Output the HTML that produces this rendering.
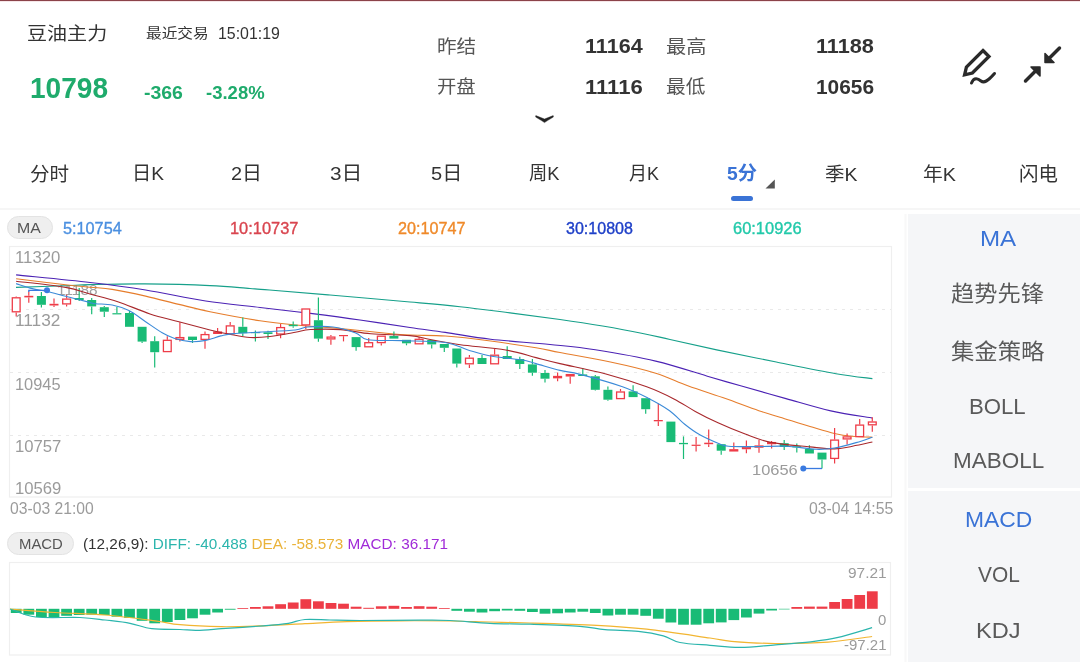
<!DOCTYPE html>
<html><head><meta charset="utf-8">
<style>
*{margin:0;padding:0;box-sizing:border-box}
html,body{width:1080px;height:662px;overflow:hidden}
html{background:#fff}
body{position:relative;font-family:"Liberation Sans","Noto Sans CJK SC",sans-serif;color:#333}
.t{position:absolute;white-space:nowrap;line-height:1;transform-origin:0 0}
.a{position:absolute}
.chart{position:absolute;left:0;top:0}
.topbar{position:absolute;left:0;top:0;width:1080px;height:1px;background:#8b4349}
.topbar2{position:absolute;left:0;top:1px;width:1080px;height:1px;background:#f6e6e8}
.sep{position:absolute;left:0;top:208px;width:1080px;height:2px;background:#f6f6f6}
.panel{position:absolute;left:908px;width:172px;background:#f5f6f8}
.pill{position:absolute;background:#efefef;border:1px solid #e3e3e3;border-radius:12px}
</style></head><body>
<div class="topbar"></div><div class="topbar2"></div>
<svg class="a" style="left:530px;top:110px" width="30" height="18" viewBox="530 110 30 18">
<path d="M535.8,115.6 L544.5,119.0 L553.2,115.6 L553.4,117.0 L547.5,120.6 L544.5,122.6 L541.5,120.6 L535.6,117.0 Z" fill="#222" stroke="#222" stroke-width="0.4" stroke-linejoin="round"/>
</svg>
<svg class="a" style="left:955px;top:40px" width="50" height="50" viewBox="955 40 50 50">
<path transform="translate(977 62) scale(0.92) translate(-977 -62)" d="M983.5,49.5 L990,56 L972,74 L963.5,76 L965.5,67.5 Z" fill="none" stroke="#2a2a2a" stroke-width="3.6" stroke-linejoin="miter"/>
<path d="M971.5,83 C974,77 978,78.5 981,81 C984,83.5 987.5,81.5 994.5,73.5" fill="none" stroke="#2a2a2a" stroke-width="3" stroke-linecap="round"/>
</svg>
<svg class="a" style="left:1015px;top:40px" width="55" height="50" viewBox="1015 40 55 50">
<path d="M1059.5,48 L1047,60.5" stroke="#2a2a2a" stroke-width="3.5" stroke-linecap="round"/>
<path d="M1045,53.5 L1045,62.5 L1054,62.5 Z" fill="#2a2a2a" stroke="#2a2a2a" stroke-width="1.5" stroke-linejoin="round"/>
<path d="M1025.5,81 L1038,68.5" stroke="#2a2a2a" stroke-width="3.5" stroke-linecap="round"/>
<path d="M1031,67 L1040,67 L1040,76 Z" fill="#2a2a2a" stroke="#2a2a2a" stroke-width="1.5" stroke-linejoin="round"/>
</svg>
<svg class="a" style="left:765px;top:179px" width="11" height="11" viewBox="0 0 11 11"><path d="M0.5,9.6 L9.8,9.6 L9.8,0.4 Z" fill="#555"/></svg>
<div class="a" style="left:731px;top:196px;width:22px;height:4.5px;border-radius:3px;background:#3a73d6"></div>
<div class="sep"></div>
<div class="panel" style="top:214px;height:273.6px"></div>
<div class="panel" style="top:490.8px;height:172px"></div>
<svg class="chart" width="1080" height="662" viewBox="0 0 1080 662">
<rect x="9.5" y="246.5" width="882" height="250.5" fill="none" stroke="#efefef" stroke-width="1.2"/>
<line x1="905.5" y1="214" x2="905.5" y2="662" stroke="#f8f8f8" stroke-width="2"/>
<line x1="10" y1="309.5" x2="891" y2="309.5" stroke="#e9e9e9" stroke-width="1" stroke-dasharray="3,5"/>
<line x1="10" y1="372.5" x2="891" y2="372.5" stroke="#e9e9e9" stroke-width="1" stroke-dasharray="3,5"/>
<line x1="10" y1="435.5" x2="891" y2="435.5" stroke="#e9e9e9" stroke-width="1" stroke-dasharray="3,5"/>
<path d="M16.0,287.4 C24.2,287.1 52.7,286.3 65.0,285.8 C77.3,285.3 76.7,284.9 90.0,284.6 C103.3,284.3 125.0,283.7 145.0,283.9 C165.0,284.1 192.5,284.8 210.0,285.6 C227.5,286.4 240.1,287.8 250.0,288.5 C259.9,289.2 256.3,288.9 269.6,290.0 C282.9,291.1 306.6,293.0 330.0,295.0 C353.4,297.0 388.3,300.1 410.0,302.0 C431.7,303.9 443.0,304.8 460.0,306.7 C477.0,308.6 495.2,311.0 511.9,313.1 C528.6,315.2 544.9,317.4 560.0,319.5 C575.1,321.6 589.0,323.7 602.6,326.0 C616.2,328.3 630.3,330.9 641.5,333.2 C652.7,335.4 657.5,336.7 670.0,339.5 C682.5,342.3 699.0,346.1 716.7,349.9 C734.4,353.6 756.4,358.0 776.3,362.0 C796.2,366.0 820.0,370.9 836.0,373.7 C852.0,376.5 866.3,377.8 872.4,378.6" fill="none" stroke="#16a08a" stroke-width="1.1"/>
<path d="M16.1,274.9 C28.4,276.2 68.4,280.0 90.0,282.5 C111.6,285.0 126.3,286.9 145.6,290.0 C164.9,293.1 186.6,298.1 205.7,301.0 C224.8,303.9 242.6,305.4 260.0,307.5 C277.4,309.6 293.7,311.3 310.4,313.4 C327.1,315.5 343.4,317.6 360.0,320.0 C376.6,322.4 395.8,325.4 410.0,327.5 C424.2,329.6 431.9,330.4 445.3,332.4 C458.7,334.3 473.2,337.2 490.6,339.2 C508.1,341.2 532.5,342.7 550.0,344.5 C567.5,346.3 577.7,347.0 595.3,349.8 C612.9,352.6 636.6,356.6 655.7,361.1 C674.8,365.6 695.9,372.9 710.0,377.0 C724.1,381.1 727.9,382.2 740.6,385.8 C753.3,389.4 771.0,394.4 786.0,398.6 C801.0,402.8 816.4,407.6 830.8,410.9 C845.2,414.1 865.5,416.9 872.4,418.1" fill="none" stroke="#4b22b4" stroke-width="1.1"/>
<path d="M16.1,278.8 C24.4,279.8 53.3,283.3 65.6,284.7 C77.9,286.1 82.2,286.4 90.0,287.2 C97.8,288.0 102.9,287.9 112.2,289.4 C121.5,290.9 134.5,293.6 145.6,296.1 C156.7,298.6 168.2,301.8 178.9,304.4 C189.6,307.0 196.5,309.0 210.0,311.7 C223.5,314.4 245.8,318.6 260.0,320.8 C274.2,323.0 281.9,323.7 295.3,325.0 C308.7,326.3 323.2,326.9 340.6,328.5 C358.1,330.1 382.6,333.2 400.0,334.5 C417.4,335.8 430.2,334.9 445.3,336.0 C460.4,337.1 475.5,339.0 490.6,341.0 C505.7,343.0 524.4,345.9 536.0,347.8 C547.6,349.7 547.6,350.1 560.0,352.5 C572.4,354.9 594.4,358.6 610.4,362.0 C626.4,365.4 642.8,369.2 655.7,373.2 C668.6,377.2 676.2,381.6 687.8,385.8 C699.4,390.0 713.7,394.5 725.5,398.6 C737.3,402.8 749.7,407.6 758.8,410.7 C767.9,413.8 771.5,414.6 780.0,417.2 C788.5,419.8 800.9,423.8 810.0,426.5 C819.1,429.2 827.4,431.9 834.4,433.5 C841.4,435.1 845.7,435.7 852.0,436.3 C858.3,436.9 869.0,437.1 872.4,437.2" fill="none" stroke="#e67d2c" stroke-width="1.1"/>
<line x1="16.2" y1="296.4" x2="16.2" y2="297.2" stroke="#ee3c48" stroke-width="1.2"/>
<line x1="16.2" y1="312.4" x2="16.2" y2="316.4" stroke="#ee3c48" stroke-width="1.2"/>
<rect x="12.3" y="297.8" width="7.8" height="14.0" fill="#fff" stroke="#ee3c48" stroke-width="1.3"/>
<line x1="28.8" y1="291.6" x2="28.8" y2="295.8" stroke="#ee3c48" stroke-width="1.2"/>
<line x1="28.8" y1="297.4" x2="28.8" y2="302.7" stroke="#ee3c48" stroke-width="1.2"/>
<rect x="24.3" y="295.8" width="9.0" height="1.6" fill="#ee3c48"/>
<line x1="41.4" y1="292.1" x2="41.4" y2="296.0" stroke="#19bb76" stroke-width="1.2"/>
<line x1="41.4" y1="304.8" x2="41.4" y2="307.5" stroke="#19bb76" stroke-width="1.2"/>
<rect x="36.9" y="296.0" width="9.0" height="8.8" fill="#19bb76"/>
<line x1="54.0" y1="298.5" x2="54.0" y2="303.8" stroke="#ee3c48" stroke-width="1.2"/>
<line x1="54.0" y1="305.5" x2="54.0" y2="307.0" stroke="#ee3c48" stroke-width="1.2"/>
<rect x="49.5" y="303.8" width="9.0" height="1.7" fill="#ee3c48"/>
<line x1="66.6" y1="294.8" x2="66.6" y2="298.5" stroke="#ee3c48" stroke-width="1.2"/>
<line x1="66.6" y1="304.5" x2="66.6" y2="306.4" stroke="#ee3c48" stroke-width="1.2"/>
<rect x="62.7" y="299.1" width="7.8" height="4.8" fill="#fff" stroke="#ee3c48" stroke-width="1.3"/>
<line x1="79.2" y1="288.0" x2="79.2" y2="298.0" stroke="#19bb76" stroke-width="1.2"/>
<line x1="79.2" y1="300.0" x2="79.2" y2="301.0" stroke="#19bb76" stroke-width="1.2"/>
<rect x="74.7" y="298.0" width="9.0" height="2.0" fill="#19bb76"/>
<line x1="91.7" y1="298.0" x2="91.7" y2="300.0" stroke="#19bb76" stroke-width="1.2"/>
<line x1="91.7" y1="306.4" x2="91.7" y2="314.3" stroke="#19bb76" stroke-width="1.2"/>
<rect x="87.2" y="300.0" width="9.0" height="6.4" fill="#19bb76"/>
<line x1="104.3" y1="306.0" x2="104.3" y2="307.2" stroke="#19bb76" stroke-width="1.2"/>
<line x1="104.3" y1="311.7" x2="104.3" y2="317.0" stroke="#19bb76" stroke-width="1.2"/>
<rect x="99.8" y="307.2" width="9.0" height="4.5" fill="#19bb76"/>
<line x1="116.9" y1="306.9" x2="116.9" y2="313.2" stroke="#19bb76" stroke-width="1.2"/>
<rect x="112.4" y="313.2" width="9.0" height="1.2" fill="#19bb76"/>
<line x1="129.5" y1="311.0" x2="129.5" y2="313.0" stroke="#19bb76" stroke-width="1.2"/>
<rect x="125.0" y="313.0" width="9.0" height="13.8" fill="#19bb76"/>
<line x1="142.1" y1="341.6" x2="142.1" y2="343.0" stroke="#19bb76" stroke-width="1.2"/>
<rect x="137.6" y="326.8" width="9.0" height="14.8" fill="#19bb76"/>
<line x1="154.7" y1="336.2" x2="154.7" y2="341.2" stroke="#19bb76" stroke-width="1.2"/>
<line x1="154.7" y1="352.2" x2="154.7" y2="367.6" stroke="#19bb76" stroke-width="1.2"/>
<rect x="150.2" y="341.2" width="9.0" height="11.0" fill="#19bb76"/>
<line x1="167.3" y1="336.2" x2="167.3" y2="339.7" stroke="#ee3c48" stroke-width="1.2"/>
<rect x="163.4" y="340.3" width="7.8" height="11.3" fill="#fff" stroke="#ee3c48" stroke-width="1.3"/>
<line x1="179.9" y1="322.3" x2="179.9" y2="337.0" stroke="#ee3c48" stroke-width="1.2"/>
<line x1="179.9" y1="340.0" x2="179.9" y2="341.6" stroke="#ee3c48" stroke-width="1.2"/>
<rect x="176.0" y="337.6" width="7.8" height="1.8" fill="#fff" stroke="#ee3c48" stroke-width="1.3"/>
<line x1="192.5" y1="340.0" x2="192.5" y2="343.0" stroke="#19bb76" stroke-width="1.2"/>
<rect x="188.0" y="336.6" width="9.0" height="3.4" fill="#19bb76"/>
<line x1="205.0" y1="331.4" x2="205.0" y2="334.0" stroke="#ee3c48" stroke-width="1.2"/>
<line x1="205.0" y1="340.0" x2="205.0" y2="348.7" stroke="#ee3c48" stroke-width="1.2"/>
<rect x="201.1" y="334.6" width="7.8" height="4.8" fill="#fff" stroke="#ee3c48" stroke-width="1.3"/>
<line x1="217.6" y1="328.0" x2="217.6" y2="331.4" stroke="#ee3c48" stroke-width="1.2"/>
<rect x="213.1" y="331.4" width="9.0" height="2.6" fill="#ee3c48"/>
<line x1="230.2" y1="322.0" x2="230.2" y2="325.3" stroke="#ee3c48" stroke-width="1.2"/>
<rect x="226.3" y="325.9" width="7.8" height="7.9" fill="#fff" stroke="#ee3c48" stroke-width="1.3"/>
<line x1="242.8" y1="317.5" x2="242.8" y2="326.8" stroke="#19bb76" stroke-width="1.2"/>
<line x1="242.8" y1="333.2" x2="242.8" y2="336.0" stroke="#19bb76" stroke-width="1.2"/>
<rect x="238.3" y="326.8" width="9.0" height="6.4" fill="#19bb76"/>
<line x1="255.4" y1="330.6" x2="255.4" y2="332.0" stroke="#19bb76" stroke-width="1.2"/>
<line x1="255.4" y1="333.2" x2="255.4" y2="341.5" stroke="#19bb76" stroke-width="1.2"/>
<rect x="250.9" y="332.0" width="9.0" height="1.2" fill="#19bb76"/>
<line x1="268.0" y1="330.8" x2="268.0" y2="332.3" stroke="#19bb76" stroke-width="1.2"/>
<line x1="268.0" y1="334.0" x2="268.0" y2="339.0" stroke="#19bb76" stroke-width="1.2"/>
<rect x="263.5" y="332.3" width="9.0" height="1.7" fill="#19bb76"/>
<line x1="280.6" y1="324.0" x2="280.6" y2="327.0" stroke="#ee3c48" stroke-width="1.2"/>
<line x1="280.6" y1="334.6" x2="280.6" y2="338.3" stroke="#ee3c48" stroke-width="1.2"/>
<rect x="276.7" y="327.6" width="7.8" height="6.4" fill="#fff" stroke="#ee3c48" stroke-width="1.3"/>
<line x1="293.2" y1="321.4" x2="293.2" y2="324.7" stroke="#19bb76" stroke-width="1.2"/>
<line x1="293.2" y1="326.2" x2="293.2" y2="327.8" stroke="#19bb76" stroke-width="1.2"/>
<rect x="288.7" y="324.7" width="9.0" height="1.5" fill="#19bb76"/>
<line x1="305.8" y1="325.5" x2="305.8" y2="329.0" stroke="#ee3c48" stroke-width="1.2"/>
<rect x="301.9" y="309.0" width="7.8" height="15.9" fill="#fff" stroke="#ee3c48" stroke-width="1.3"/>
<line x1="318.4" y1="297.6" x2="318.4" y2="320.2" stroke="#19bb76" stroke-width="1.2"/>
<line x1="318.4" y1="338.6" x2="318.4" y2="341.7" stroke="#19bb76" stroke-width="1.2"/>
<rect x="313.9" y="320.2" width="9.0" height="18.4" fill="#19bb76"/>
<line x1="330.9" y1="335.0" x2="330.9" y2="336.5" stroke="#ee3c48" stroke-width="1.2"/>
<line x1="330.9" y1="339.5" x2="330.9" y2="344.7" stroke="#ee3c48" stroke-width="1.2"/>
<rect x="327.1" y="337.1" width="7.8" height="1.8" fill="#fff" stroke="#ee3c48" stroke-width="1.3"/>
<line x1="343.5" y1="336.2" x2="343.5" y2="341.4" stroke="#ee3c48" stroke-width="1.2"/>
<rect x="339.0" y="335.0" width="9.0" height="1.2" fill="#ee3c48"/>
<line x1="356.1" y1="347.1" x2="356.1" y2="350.7" stroke="#19bb76" stroke-width="1.2"/>
<rect x="351.6" y="337.1" width="9.0" height="10.0" fill="#19bb76"/>
<line x1="368.7" y1="338.0" x2="368.7" y2="342.1" stroke="#ee3c48" stroke-width="1.2"/>
<rect x="364.8" y="342.7" width="7.8" height="4.1" fill="#fff" stroke="#ee3c48" stroke-width="1.3"/>
<line x1="381.3" y1="343.2" x2="381.3" y2="345.6" stroke="#ee3c48" stroke-width="1.2"/>
<rect x="377.4" y="336.2" width="7.8" height="6.4" fill="#fff" stroke="#ee3c48" stroke-width="1.3"/>
<line x1="393.9" y1="331.5" x2="393.9" y2="336.0" stroke="#19bb76" stroke-width="1.2"/>
<rect x="389.4" y="336.0" width="9.0" height="2.6" fill="#19bb76"/>
<line x1="406.5" y1="343.3" x2="406.5" y2="345.3" stroke="#19bb76" stroke-width="1.2"/>
<rect x="402.0" y="339.8" width="9.0" height="3.5" fill="#19bb76"/>
<line x1="419.1" y1="337.0" x2="419.1" y2="338.7" stroke="#ee3c48" stroke-width="1.2"/>
<rect x="415.2" y="339.3" width="7.8" height="4.5" fill="#fff" stroke="#ee3c48" stroke-width="1.3"/>
<line x1="431.7" y1="344.4" x2="431.7" y2="348.5" stroke="#19bb76" stroke-width="1.2"/>
<rect x="427.2" y="340.0" width="9.0" height="4.4" fill="#19bb76"/>
<line x1="444.3" y1="347.8" x2="444.3" y2="352.0" stroke="#19bb76" stroke-width="1.2"/>
<rect x="439.8" y="344.0" width="9.0" height="3.8" fill="#19bb76"/>
<line x1="456.8" y1="363.6" x2="456.8" y2="367.4" stroke="#19bb76" stroke-width="1.2"/>
<rect x="452.3" y="348.5" width="9.0" height="15.1" fill="#19bb76"/>
<line x1="469.4" y1="355.0" x2="469.4" y2="357.6" stroke="#ee3c48" stroke-width="1.2"/>
<line x1="469.4" y1="364.4" x2="469.4" y2="368.0" stroke="#ee3c48" stroke-width="1.2"/>
<rect x="465.5" y="358.2" width="7.8" height="5.6" fill="#fff" stroke="#ee3c48" stroke-width="1.3"/>
<line x1="482.0" y1="355.0" x2="482.0" y2="358.0" stroke="#19bb76" stroke-width="1.2"/>
<rect x="477.5" y="358.0" width="9.0" height="6.0" fill="#19bb76"/>
<line x1="494.6" y1="349.0" x2="494.6" y2="354.6" stroke="#ee3c48" stroke-width="1.2"/>
<rect x="490.7" y="355.2" width="7.8" height="8.6" fill="#fff" stroke="#ee3c48" stroke-width="1.3"/>
<line x1="507.2" y1="346.3" x2="507.2" y2="356.0" stroke="#19bb76" stroke-width="1.2"/>
<rect x="502.7" y="356.0" width="9.0" height="3.0" fill="#19bb76"/>
<line x1="519.8" y1="356.8" x2="519.8" y2="359.0" stroke="#19bb76" stroke-width="1.2"/>
<line x1="519.8" y1="364.0" x2="519.8" y2="369.0" stroke="#19bb76" stroke-width="1.2"/>
<rect x="515.3" y="359.0" width="9.0" height="5.0" fill="#19bb76"/>
<line x1="532.4" y1="359.0" x2="532.4" y2="364.4" stroke="#19bb76" stroke-width="1.2"/>
<line x1="532.4" y1="372.7" x2="532.4" y2="375.7" stroke="#19bb76" stroke-width="1.2"/>
<rect x="527.9" y="364.4" width="9.0" height="8.3" fill="#19bb76"/>
<line x1="545.0" y1="370.0" x2="545.0" y2="373.0" stroke="#19bb76" stroke-width="1.2"/>
<line x1="545.0" y1="378.7" x2="545.0" y2="382.5" stroke="#19bb76" stroke-width="1.2"/>
<rect x="540.5" y="373.0" width="9.0" height="5.7" fill="#19bb76"/>
<line x1="557.6" y1="372.6" x2="557.6" y2="375.9" stroke="#ee3c48" stroke-width="1.2"/>
<line x1="557.6" y1="378.3" x2="557.6" y2="381.3" stroke="#ee3c48" stroke-width="1.2"/>
<rect x="553.7" y="376.5" width="7.8" height="1.2" fill="#fff" stroke="#ee3c48" stroke-width="1.3"/>
<line x1="570.2" y1="376.5" x2="570.2" y2="383.8" stroke="#ee3c48" stroke-width="1.2"/>
<rect x="566.3" y="374.6" width="7.8" height="1.3" fill="#fff" stroke="#ee3c48" stroke-width="1.3"/>
<line x1="582.8" y1="368.0" x2="582.8" y2="374.4" stroke="#19bb76" stroke-width="1.2"/>
<rect x="578.2" y="374.4" width="9.0" height="1.6" fill="#19bb76"/>
<line x1="595.3" y1="375.0" x2="595.3" y2="376.3" stroke="#19bb76" stroke-width="1.2"/>
<line x1="595.3" y1="389.8" x2="595.3" y2="390.6" stroke="#19bb76" stroke-width="1.2"/>
<rect x="590.8" y="376.3" width="9.0" height="13.5" fill="#19bb76"/>
<line x1="607.9" y1="386.5" x2="607.9" y2="389.8" stroke="#19bb76" stroke-width="1.2"/>
<line x1="607.9" y1="399.7" x2="607.9" y2="400.7" stroke="#19bb76" stroke-width="1.2"/>
<rect x="603.4" y="389.8" width="9.0" height="9.9" fill="#19bb76"/>
<line x1="620.5" y1="389.0" x2="620.5" y2="391.4" stroke="#ee3c48" stroke-width="1.2"/>
<rect x="616.6" y="392.0" width="7.8" height="6.6" fill="#fff" stroke="#ee3c48" stroke-width="1.3"/>
<line x1="633.1" y1="385.3" x2="633.1" y2="391.4" stroke="#19bb76" stroke-width="1.2"/>
<rect x="628.6" y="391.4" width="9.0" height="5.7" fill="#19bb76"/>
<line x1="645.7" y1="409.2" x2="645.7" y2="413.7" stroke="#19bb76" stroke-width="1.2"/>
<rect x="641.2" y="398.2" width="9.0" height="11.0" fill="#19bb76"/>
<line x1="658.3" y1="403.6" x2="658.3" y2="420.0" stroke="#ee3c48" stroke-width="1.2"/>
<line x1="658.3" y1="421.3" x2="658.3" y2="426.1" stroke="#ee3c48" stroke-width="1.2"/>
<rect x="653.8" y="420.0" width="9.0" height="1.3" fill="#ee3c48"/>
<rect x="666.4" y="421.6" width="9.0" height="20.5" fill="#19bb76"/>
<line x1="683.5" y1="436.4" x2="683.5" y2="442.9" stroke="#19bb76" stroke-width="1.2"/>
<line x1="683.5" y1="444.2" x2="683.5" y2="459.0" stroke="#19bb76" stroke-width="1.2"/>
<rect x="679.0" y="442.9" width="9.0" height="1.3" fill="#19bb76"/>
<line x1="696.1" y1="437.0" x2="696.1" y2="444.7" stroke="#ee3c48" stroke-width="1.2"/>
<line x1="696.1" y1="445.7" x2="696.1" y2="451.5" stroke="#ee3c48" stroke-width="1.2"/>
<rect x="691.6" y="444.7" width="9.0" height="1.2" fill="#ee3c48"/>
<line x1="708.7" y1="429.6" x2="708.7" y2="442.7" stroke="#ee3c48" stroke-width="1.2"/>
<line x1="708.7" y1="444.2" x2="708.7" y2="447.0" stroke="#ee3c48" stroke-width="1.2"/>
<rect x="704.2" y="442.7" width="9.0" height="1.5" fill="#ee3c48"/>
<line x1="721.2" y1="450.7" x2="721.2" y2="454.8" stroke="#19bb76" stroke-width="1.2"/>
<rect x="716.7" y="444.2" width="9.0" height="6.5" fill="#19bb76"/>
<line x1="733.8" y1="442.4" x2="733.8" y2="449.2" stroke="#ee3c48" stroke-width="1.2"/>
<rect x="729.9" y="449.8" width="7.8" height="1.1" fill="#fff" stroke="#ee3c48" stroke-width="1.3"/>
<line x1="746.4" y1="440.6" x2="746.4" y2="446.6" stroke="#ee3c48" stroke-width="1.2"/>
<line x1="746.4" y1="449.2" x2="746.4" y2="453.3" stroke="#ee3c48" stroke-width="1.2"/>
<rect x="742.5" y="447.2" width="7.8" height="1.4" fill="#fff" stroke="#ee3c48" stroke-width="1.3"/>
<line x1="759.0" y1="440.0" x2="759.0" y2="445.4" stroke="#ee3c48" stroke-width="1.2"/>
<line x1="759.0" y1="447.7" x2="759.0" y2="452.7" stroke="#ee3c48" stroke-width="1.2"/>
<rect x="755.1" y="446.0" width="7.8" height="1.1" fill="#fff" stroke="#ee3c48" stroke-width="1.3"/>
<line x1="771.6" y1="441.0" x2="771.6" y2="442.0" stroke="#ee3c48" stroke-width="1.2"/>
<line x1="771.6" y1="444.2" x2="771.6" y2="448.4" stroke="#ee3c48" stroke-width="1.2"/>
<rect x="767.7" y="442.6" width="7.8" height="1.0" fill="#fff" stroke="#ee3c48" stroke-width="1.3"/>
<line x1="784.2" y1="440.0" x2="784.2" y2="443.2" stroke="#19bb76" stroke-width="1.2"/>
<line x1="784.2" y1="447.0" x2="784.2" y2="450.0" stroke="#19bb76" stroke-width="1.2"/>
<rect x="779.7" y="443.2" width="9.0" height="3.8" fill="#19bb76"/>
<line x1="796.8" y1="443.5" x2="796.8" y2="446.2" stroke="#19bb76" stroke-width="1.2"/>
<line x1="796.8" y1="447.4" x2="796.8" y2="452.6" stroke="#19bb76" stroke-width="1.2"/>
<rect x="792.3" y="446.2" width="9.0" height="1.2" fill="#19bb76"/>
<line x1="809.4" y1="445.3" x2="809.4" y2="449.0" stroke="#19bb76" stroke-width="1.2"/>
<rect x="804.9" y="449.0" width="9.0" height="4.5" fill="#19bb76"/>
<line x1="822.0" y1="459.5" x2="822.0" y2="468.5" stroke="#19bb76" stroke-width="1.2"/>
<rect x="817.5" y="452.6" width="9.0" height="6.9" fill="#19bb76"/>
<line x1="834.6" y1="428.0" x2="834.6" y2="439.5" stroke="#ee3c48" stroke-width="1.2"/>
<line x1="834.6" y1="459.0" x2="834.6" y2="463.4" stroke="#ee3c48" stroke-width="1.2"/>
<rect x="830.7" y="440.1" width="7.8" height="18.3" fill="#fff" stroke="#ee3c48" stroke-width="1.3"/>
<line x1="847.1" y1="433.5" x2="847.1" y2="436.3" stroke="#ee3c48" stroke-width="1.2"/>
<line x1="847.1" y1="439.5" x2="847.1" y2="444.4" stroke="#ee3c48" stroke-width="1.2"/>
<rect x="843.2" y="436.9" width="7.8" height="2.0" fill="#fff" stroke="#ee3c48" stroke-width="1.3"/>
<line x1="859.7" y1="419.0" x2="859.7" y2="424.5" stroke="#ee3c48" stroke-width="1.2"/>
<rect x="855.8" y="425.1" width="7.8" height="11.5" fill="#fff" stroke="#ee3c48" stroke-width="1.3"/>
<line x1="872.3" y1="417.2" x2="872.3" y2="421.4" stroke="#ee3c48" stroke-width="1.2"/>
<line x1="872.3" y1="425.4" x2="872.3" y2="431.7" stroke="#ee3c48" stroke-width="1.2"/>
<rect x="868.4" y="422.0" width="7.8" height="2.8" fill="#fff" stroke="#ee3c48" stroke-width="1.3"/>
<path d="M16.1,281.3 C24.4,282.3 53.3,285.3 65.6,287.4 C77.9,289.5 81.3,291.6 90.0,294.0 C98.7,296.4 107.8,298.4 117.8,301.7 C127.8,305.0 139.8,310.6 150.0,313.9 C160.2,317.2 168.9,319.0 178.9,321.7 C188.9,324.4 201.8,327.9 210.0,330.0 C218.2,332.1 221.7,332.8 228.4,334.0 C235.1,335.2 243.1,337.1 250.0,337.5 C256.9,337.9 262.4,337.4 270.0,336.5 C277.6,335.6 288.6,333.5 295.3,332.3 C302.0,331.1 302.8,329.9 310.4,329.5 C317.9,329.1 330.5,328.9 340.6,329.6 C350.7,330.3 359.2,332.8 370.8,333.8 C382.4,334.8 400.1,334.7 410.0,335.6 C419.9,336.6 421.8,338.0 430.2,339.5 C438.6,341.0 447.8,342.9 460.4,344.7 C473.0,346.4 493.1,347.9 505.7,350.0 C518.3,352.1 527.0,355.3 536.0,357.6 C545.0,359.9 548.4,360.9 560.0,363.6 C571.6,366.3 591.4,370.1 605.9,374.0 C620.4,377.9 635.4,382.7 646.7,386.8 C658.0,390.9 665.8,394.8 673.9,398.9 C682.0,403.0 687.9,407.4 695.3,411.4 C702.6,415.4 709.7,419.0 718.0,422.8 C726.3,426.6 736.4,430.8 745.2,434.1 C754.0,437.4 760.0,440.3 770.8,442.4 C781.6,444.5 799.4,445.8 810.0,446.9 C820.6,448.0 827.3,449.0 834.4,448.9 C841.5,448.8 846.2,447.3 852.5,446.2 C858.8,445.1 869.1,442.7 872.4,442.0" fill="none" stroke="#a8282c" stroke-width="1.1"/>
<path d="M16.1,283.6 C18.8,284.4 27.1,287.3 32.2,288.6 C37.3,289.9 41.1,290.0 46.7,291.3 C52.3,292.6 58.7,294.5 65.6,296.3 C72.4,298.1 82.8,300.7 87.8,301.9 C92.8,303.1 91.5,303.2 95.6,303.7 C99.7,304.2 106.7,303.9 112.2,305.0 C117.8,306.1 123.3,307.8 128.9,310.6 C134.5,313.4 140.1,318.0 145.6,321.7 C151.1,325.4 157.5,330.1 162.2,332.8 C166.9,335.6 169.3,336.7 174.0,338.2 C178.7,339.7 185.3,341.2 190.6,341.6 C195.9,342.0 200.7,341.3 205.7,340.4 C210.7,339.4 216.2,337.0 220.8,335.9 C225.4,334.8 226.5,334.2 233.0,333.6 C239.5,333.0 249.6,332.7 260.0,332.1 C270.4,331.5 287.4,330.9 295.3,330.0 C303.2,329.1 301.1,327.5 307.4,327.0 C313.7,326.5 324.9,326.0 333.0,327.0 C341.1,328.0 349.9,330.9 355.7,333.0 C361.5,335.1 360.2,338.5 367.8,339.8 C375.4,341.1 388.1,340.2 401.0,340.6 C413.9,341.1 434.1,340.9 445.3,342.5 C456.5,344.1 460.4,347.8 468.0,350.0 C475.6,352.2 481.8,354.4 490.6,356.0 C499.4,357.6 513.2,358.5 520.8,359.8 C528.4,361.1 529.5,361.8 536.0,363.6 C542.5,365.4 552.6,368.6 560.0,370.4 C567.4,372.2 569.8,371.7 580.2,374.4 C590.6,377.1 611.2,382.8 622.5,386.8 C633.8,390.8 640.4,394.2 648.2,398.2 C656.1,402.2 663.5,406.3 669.6,410.7 C675.7,415.1 679.7,420.3 684.7,424.3 C689.7,428.3 694.2,431.7 699.8,434.8 C705.3,437.9 713.2,441.3 718.0,443.2 C722.8,445.1 722.2,445.6 728.5,446.2 C734.8,446.8 746.1,446.6 755.7,446.6 C765.3,446.6 775.9,445.8 786.0,446.2 C796.1,446.6 808.2,449.0 816.3,449.3 C824.4,449.6 827.8,449.1 834.4,448.0 C841.0,446.9 849.8,444.4 856.1,442.6 C862.4,440.8 869.7,438.1 872.4,437.2" fill="none" stroke="#3b8ad8" stroke-width="1.1"/>
<polyline points="28.8,292 28.8,290.3 47,290.3" fill="none" stroke="#3a7ae0" stroke-width="1.3"/>
<circle cx="47" cy="290.3" r="3" fill="#3a7ae0"/>
<polyline points="822,468.5 803.3,468.5" fill="none" stroke="#3a7ae0" stroke-width="1.3"/>
<circle cx="803.3" cy="468.5" r="3" fill="#3a7ae0"/>
<rect x="9.5" y="562.5" width="881" height="92.5" fill="none" stroke="#efefef" stroke-width="1.2"/>
<rect x="10.8" y="608.8" width="10.8" height="4.2" fill="#19bb76"/>
<rect x="23.4" y="608.8" width="10.8" height="5.9" fill="#19bb76"/>
<rect x="36.0" y="608.8" width="10.8" height="8.2" fill="#19bb76"/>
<rect x="48.6" y="608.8" width="10.8" height="8.7" fill="#19bb76"/>
<rect x="61.2" y="608.8" width="10.8" height="7.0" fill="#19bb76"/>
<rect x="73.8" y="608.8" width="10.8" height="6.2" fill="#19bb76"/>
<rect x="86.3" y="608.8" width="10.8" height="5.9" fill="#19bb76"/>
<rect x="98.9" y="608.8" width="10.8" height="6.2" fill="#19bb76"/>
<rect x="111.5" y="608.8" width="10.8" height="7.9" fill="#19bb76"/>
<rect x="124.1" y="608.8" width="10.8" height="9.2" fill="#19bb76"/>
<rect x="136.7" y="608.8" width="10.8" height="12.0" fill="#19bb76"/>
<rect x="149.3" y="608.8" width="10.8" height="14.5" fill="#19bb76"/>
<rect x="161.9" y="608.8" width="10.8" height="13.2" fill="#19bb76"/>
<rect x="174.5" y="608.8" width="10.8" height="11.2" fill="#19bb76"/>
<rect x="187.1" y="608.8" width="10.8" height="9.5" fill="#19bb76"/>
<rect x="199.6" y="608.8" width="10.8" height="5.9" fill="#19bb76"/>
<rect x="212.2" y="608.8" width="10.8" height="3.7" fill="#19bb76"/>
<rect x="224.8" y="608.8" width="10.8" height="0.9" fill="#19bb76"/>
<rect x="237.4" y="608.0" width="10.8" height="0.8" fill="#ee3c48"/>
<rect x="250.0" y="607.0" width="10.8" height="1.8" fill="#ee3c48"/>
<rect x="262.6" y="606.3" width="10.8" height="2.5" fill="#ee3c48"/>
<rect x="275.2" y="604.2" width="10.8" height="4.6" fill="#ee3c48"/>
<rect x="287.8" y="602.5" width="10.8" height="6.3" fill="#ee3c48"/>
<rect x="300.4" y="599.2" width="10.8" height="9.6" fill="#ee3c48"/>
<rect x="313.0" y="601.3" width="10.8" height="7.5" fill="#ee3c48"/>
<rect x="325.6" y="603.0" width="10.8" height="5.8" fill="#ee3c48"/>
<rect x="338.1" y="603.7" width="10.8" height="5.1" fill="#ee3c48"/>
<rect x="350.7" y="606.7" width="10.8" height="2.1" fill="#ee3c48"/>
<rect x="363.3" y="607.8" width="10.8" height="1.0" fill="#ee3c48"/>
<rect x="375.9" y="606.3" width="10.8" height="2.5" fill="#ee3c48"/>
<rect x="388.5" y="605.8" width="10.8" height="3.0" fill="#ee3c48"/>
<rect x="401.1" y="607.0" width="10.8" height="1.8" fill="#ee3c48"/>
<rect x="413.7" y="606.2" width="10.8" height="2.6" fill="#ee3c48"/>
<rect x="426.3" y="606.7" width="10.8" height="2.1" fill="#ee3c48"/>
<rect x="438.9" y="608.0" width="10.8" height="0.8" fill="#ee3c48"/>
<rect x="451.4" y="608.8" width="10.8" height="2.0" fill="#19bb76"/>
<rect x="464.0" y="608.8" width="10.8" height="2.9" fill="#19bb76"/>
<rect x="476.6" y="608.8" width="10.8" height="3.7" fill="#19bb76"/>
<rect x="489.2" y="608.8" width="10.8" height="2.4" fill="#19bb76"/>
<rect x="501.8" y="608.8" width="10.8" height="1.7" fill="#19bb76"/>
<rect x="514.4" y="608.8" width="10.8" height="2.0" fill="#19bb76"/>
<rect x="527.0" y="608.8" width="10.8" height="3.2" fill="#19bb76"/>
<rect x="539.6" y="608.8" width="10.8" height="4.9" fill="#19bb76"/>
<rect x="552.2" y="608.8" width="10.8" height="4.5" fill="#19bb76"/>
<rect x="564.8" y="608.8" width="10.8" height="3.7" fill="#19bb76"/>
<rect x="577.4" y="608.8" width="10.8" height="2.9" fill="#19bb76"/>
<rect x="589.9" y="608.8" width="10.8" height="4.2" fill="#19bb76"/>
<rect x="602.5" y="608.8" width="10.8" height="6.7" fill="#19bb76"/>
<rect x="615.1" y="608.8" width="10.8" height="5.9" fill="#19bb76"/>
<rect x="627.7" y="608.8" width="10.8" height="5.9" fill="#19bb76"/>
<rect x="640.3" y="608.8" width="10.8" height="7.0" fill="#19bb76"/>
<rect x="652.9" y="608.8" width="10.8" height="9.9" fill="#19bb76"/>
<rect x="665.5" y="608.8" width="10.8" height="13.7" fill="#19bb76"/>
<rect x="678.1" y="608.8" width="10.8" height="15.9" fill="#19bb76"/>
<rect x="690.7" y="608.8" width="10.8" height="15.9" fill="#19bb76"/>
<rect x="703.3" y="608.8" width="10.8" height="14.5" fill="#19bb76"/>
<rect x="715.8" y="608.8" width="10.8" height="13.6" fill="#19bb76"/>
<rect x="728.4" y="608.8" width="10.8" height="11.3" fill="#19bb76"/>
<rect x="741.0" y="608.8" width="10.8" height="8.7" fill="#19bb76"/>
<rect x="753.6" y="608.8" width="10.8" height="4.8" fill="#19bb76"/>
<rect x="766.2" y="608.8" width="10.8" height="1.7" fill="#19bb76"/>
<rect x="778.8" y="608.8" width="10.8" height="0.6" fill="#19bb76"/>
<rect x="791.4" y="607.0" width="10.8" height="1.8" fill="#ee3c48"/>
<rect x="804.0" y="606.6" width="10.8" height="2.2" fill="#ee3c48"/>
<rect x="816.6" y="606.6" width="10.8" height="2.2" fill="#ee3c48"/>
<rect x="829.2" y="602.0" width="10.8" height="6.8" fill="#ee3c48"/>
<rect x="841.7" y="599.0" width="10.8" height="9.8" fill="#ee3c48"/>
<rect x="854.3" y="595.0" width="10.8" height="13.8" fill="#ee3c48"/>
<rect x="866.9" y="591.3" width="10.8" height="17.5" fill="#ee3c48"/>
<path d="M10.0,609.0 C17.5,609.6 39.2,611.5 55.0,612.5 C70.8,613.5 88.3,613.6 105.0,615.0 C121.7,616.4 142.5,619.2 155.0,620.8 C167.5,622.4 168.9,623.7 180.0,624.7 C191.1,625.7 207.8,626.5 221.7,626.7 C235.6,626.9 249.4,626.3 263.3,625.8 C277.2,625.3 291.1,624.4 305.0,623.7 C318.9,623.0 330.9,622.2 346.7,621.7 C362.5,621.2 382.8,620.9 400.0,620.8 C417.2,620.7 435.0,620.8 450.0,621.0 C465.0,621.2 476.7,621.7 490.0,622.0 C503.3,622.3 512.2,622.5 530.0,623.0 C547.8,623.5 577.2,624.3 596.7,625.3 C616.2,626.3 627.8,627.1 646.7,629.2 C665.6,631.3 695.9,636.0 710.0,638.0 C724.1,640.0 720.5,640.4 731.4,641.3 C742.3,642.2 759.3,643.4 775.4,643.5 C791.5,643.6 812.1,643.3 828.2,642.1 C844.3,640.9 864.8,637.4 872.1,636.5" fill="none" stroke="#f2b531" stroke-width="1.2"/>
<path d="M10.0,609.0 C14.3,610.3 24.1,615.6 35.8,617.0 C47.5,618.4 68.5,617.0 80.0,617.5 C91.5,618.0 96.7,619.0 105.0,620.0 C113.3,621.0 122.2,621.8 130.0,623.3 C137.8,624.8 143.4,627.7 151.7,628.7 C160.0,629.7 172.5,629.2 180.0,629.5 C187.5,629.8 189.8,630.4 196.7,630.3 C203.6,630.2 210.6,629.5 221.7,628.7 C232.8,628.0 252.2,626.7 263.3,625.8 C274.4,624.9 281.4,624.3 288.3,623.3 C295.2,622.2 298.1,620.0 305.0,619.5 C311.9,619.0 320.8,619.8 330.0,620.0 C339.2,620.2 345.0,620.5 360.0,620.5 C375.0,620.5 405.0,620.2 420.0,620.2 C435.0,620.2 438.3,620.0 450.0,620.5 C461.7,621.0 476.7,622.7 490.0,623.3 C503.3,623.9 515.0,623.7 530.0,624.2 C545.0,624.7 567.5,625.4 580.0,626.3 C592.5,627.2 595.3,628.9 605.0,629.7 C614.7,630.5 628.6,630.3 638.3,631.3 C648.0,632.3 656.3,633.9 663.3,635.8 C670.2,637.7 672.2,640.9 680.0,642.5 C687.8,644.1 700.0,644.5 710.0,645.3 C720.0,646.1 729.3,647.5 740.2,647.4 C751.1,647.3 763.7,645.7 775.4,644.8 C787.1,643.9 800.3,643.0 810.6,641.8 C820.9,640.6 826.8,640.1 837.0,637.7 C847.2,635.4 866.2,629.4 872.1,627.7" fill="none" stroke="#2bb5ad" stroke-width="1.2"/>
</svg>
<div class="pill" style="left:7px;top:216px;width:46px;height:23px"></div>
<div class="pill" style="left:7px;top:532px;width:67px;height:23px"></div>
<div class="t" style="left:26.60px;top:25.10px;font-size:18.00px;color:#333;transform:scaleX(1.1143);">豆油主力</div>
<div class="t" style="left:145.70px;top:26.80px;font-size:13.50px;color:#333;transform:scaleX(1.1588);">最近交易</div>
<div class="t" style="left:218.42px;top:26.40px;font-size:16.00px;color:#333;transform:scaleX(0.9939);">15:01:19</div>
<div class="t" style="left:29.69px;top:72.60px;font-size:30.00px;color:#1fab6c;font-weight:bold;transform:scaleX(0.9350);">10798</div>
<div class="t" style="left:143.77px;top:84.20px;font-size:18.50px;color:#1fab6c;font-weight:bold;transform:scaleX(1.0513);">-366</div>
<div class="t" style="left:206.00px;top:84.20px;font-size:18.50px;color:#1fab6c;font-weight:bold;">-3.28%</div>
<div class="t" style="left:437.05px;top:37.50px;font-size:18.00px;color:#555;transform:scaleX(1.0898);">昨结</div>
<div class="t" style="left:585.34px;top:35.50px;font-size:20.00px;color:#333;font-weight:bold;transform:scaleX(1.0799);">11164</div>
<div class="t" style="left:665.51px;top:37.50px;font-size:18.00px;color:#555;transform:scaleX(1.1218);">最高</div>
<div class="t" style="left:815.73px;top:35.50px;font-size:20.00px;color:#333;font-weight:bold;transform:scaleX(1.0841);">11188</div>
<div class="t" style="left:436.71px;top:78.30px;font-size:18.00px;color:#555;transform:scaleX(1.0757);">开盘</div>
<div class="t" style="left:585.31px;top:76.50px;font-size:20.00px;color:#333;font-weight:bold;transform:scaleX(1.1025);">11116</div>
<div class="t" style="left:665.58px;top:78.30px;font-size:18.00px;color:#555;transform:scaleX(1.0923);">最低</div>
<div class="t" style="left:815.77px;top:76.50px;font-size:20.00px;color:#333;font-weight:bold;transform:scaleX(1.0444);">10656</div>
<div class="t" style="left:29.66px;top:164.60px;font-size:19.00px;color:#333;transform:scaleX(1.0285);">分时</div>
<div class="t" style="left:131.61px;top:164.40px;font-size:19.00px;color:#333;transform:scaleX(1.0086);">日K</div>
<div class="t" style="left:231.48px;top:164.40px;font-size:19.00px;color:#333;transform:scaleX(1.0478);">2日</div>
<div class="t" style="left:329.88px;top:164.40px;font-size:19.00px;color:#333;transform:scaleX(1.0947);">3日</div>
<div class="t" style="left:430.73px;top:164.40px;font-size:19.00px;color:#333;transform:scaleX(1.0553);">5日</div>
<div class="t" style="left:529.12px;top:163.60px;font-size:19.00px;color:#333;transform:scaleX(0.9632);">周K</div>
<div class="t" style="left:628.89px;top:163.60px;font-size:19.00px;color:#333;transform:scaleX(0.9440);">月K</div>
<div class="t" style="left:726.90px;top:163.90px;font-size:19.00px;color:#3a73d6;font-weight:bold;transform:scaleX(1.0150);">5分</div>
<div class="t" style="left:824.73px;top:164.60px;font-size:19.00px;color:#333;transform:scaleX(1.0212);">季K</div>
<div class="t" style="left:923.28px;top:164.60px;font-size:19.00px;color:#333;transform:scaleX(1.0417);">年K</div>
<div class="t" style="left:1019.26px;top:164.60px;font-size:19.00px;color:#333;transform:scaleX(1.0235);">闪电</div>
<div class="t" style="left:979.65px;top:227.60px;font-size:22.00px;color:#3a73d6;transform:scaleX(1.0968);">MA</div>
<div class="t" style="left:950.94px;top:283.30px;font-size:22.00px;color:#5a5a5a;transform:scaleX(1.0560);">趋势先锋</div>
<div class="t" style="left:950.59px;top:340.50px;font-size:22.00px;color:#5a5a5a;transform:scaleX(1.0622);">集金策略</div>
<div class="t" style="left:969.40px;top:395.50px;font-size:22.00px;color:#5a5a5a;transform:scaleX(1.0080);">BOLL</div>
<div class="t" style="left:952.87px;top:450.40px;font-size:22.00px;color:#5a5a5a;transform:scaleX(1.0209);">MABOLL</div>
<div class="t" style="left:964.84px;top:508.90px;font-size:22.00px;color:#3a73d6;transform:scaleX(1.0387);">MACD</div>
<div class="t" style="left:977.81px;top:564.00px;font-size:22.00px;color:#5a5a5a;transform:scaleX(0.9496);">VOL</div>
<div class="t" style="left:975.85px;top:619.50px;font-size:22.00px;color:#5a5a5a;transform:scaleX(1.0745);">KDJ</div>
<div class="t" style="left:62.70px;top:220.80px;font-size:16.00px;color:#4a8fe0;-webkit-text-stroke:0.35px currentColor;transform:scaleX(1.0150);">5:10754</div>
<div class="t" style="left:230.28px;top:220.80px;font-size:16.00px;color:#d9454f;-webkit-text-stroke:0.35px currentColor;transform:scaleX(1.0246);">10:10737</div>
<div class="t" style="left:397.61px;top:220.80px;font-size:16.00px;color:#ef8a2a;-webkit-text-stroke:0.35px currentColor;transform:scaleX(1.0095);">20:10747</div>
<div class="t" style="left:566.10px;top:220.80px;font-size:16.00px;color:#1f40c8;-webkit-text-stroke:0.35px currentColor;transform:scaleX(1.0034);">30:10808</div>
<div class="t" style="left:733.49px;top:220.80px;font-size:16.00px;color:#22c9aa;-webkit-text-stroke:0.35px currentColor;transform:scaleX(1.0273);">60:10926</div>
<div class="t" style="left:14.70px;top:249.30px;font-size:16.30px;color:#9b9b9b;transform:scaleX(1.0285);">11320</div>
<div class="t" style="left:15.47px;top:312.40px;font-size:16.30px;color:#9b9b9b;transform:scaleX(1.0593);">11132</div>
<div class="t" style="left:14.68px;top:376.10px;font-size:16.30px;color:#9b9b9b;transform:scaleX(1.0057);">10945</div>
<div class="t" style="left:14.57px;top:437.60px;font-size:16.30px;color:#9b9b9b;transform:scaleX(1.0243);">10757</div>
<div class="t" style="left:14.57px;top:480.10px;font-size:16.30px;color:#9b9b9b;transform:scaleX(1.0243);">10569</div>
<div class="t" style="left:10.21px;top:499.80px;font-size:16.30px;color:#9b9b9b;transform:scaleX(0.9630);">03-03 21:00</div>
<div class="t" style="left:809.00px;top:499.60px;font-size:16.30px;color:#9b9b9b;transform:scaleX(0.9700);">03-04 14:55</div>
<div class="t" style="left:57.40px;top:282.60px;font-size:14.00px;color:#a0a0a0;z-index:-1;transform:scaleX(1.1000);">11188</div>
<div class="t" style="left:751.79px;top:461.90px;font-size:15.00px;color:#9b9b9b;transform:scaleX(1.0957);">10656</div>
<div class="t" style="left:848.00px;top:566.00px;font-size:14.00px;color:#9b9b9b;transform:scaleX(1.1008);">97.21</div>
<div class="t" style="left:878.05px;top:612.70px;font-size:14.00px;color:#9b9b9b;transform:scaleX(1.0680);">0</div>
<div class="t" style="left:844.44px;top:638.00px;font-size:14.00px;color:#9b9b9b;transform:scaleX(1.0696);">-97.21</div>
<div class="t" style="left:17.17px;top:220.30px;font-size:15.00px;color:#555;transform:scaleX(1.0583);">MA</div>
<div class="t" style="left:18.79px;top:536.10px;font-size:15.00px;color:#555;transform:scaleX(0.9917);">MACD</div>
<div class="t" style="left:82.68px;top:535.90px;font-size:15.00px;color:#333;transform:scaleX(1.0202);">(12,26,9): <span style="color:#2bb5ad">DIFF: -40.488</span> <span style="color:#eab33a">DEA: -58.573</span> <span style="color:#a02ad8">MACD: 36.171</span></div>
</body></html>
